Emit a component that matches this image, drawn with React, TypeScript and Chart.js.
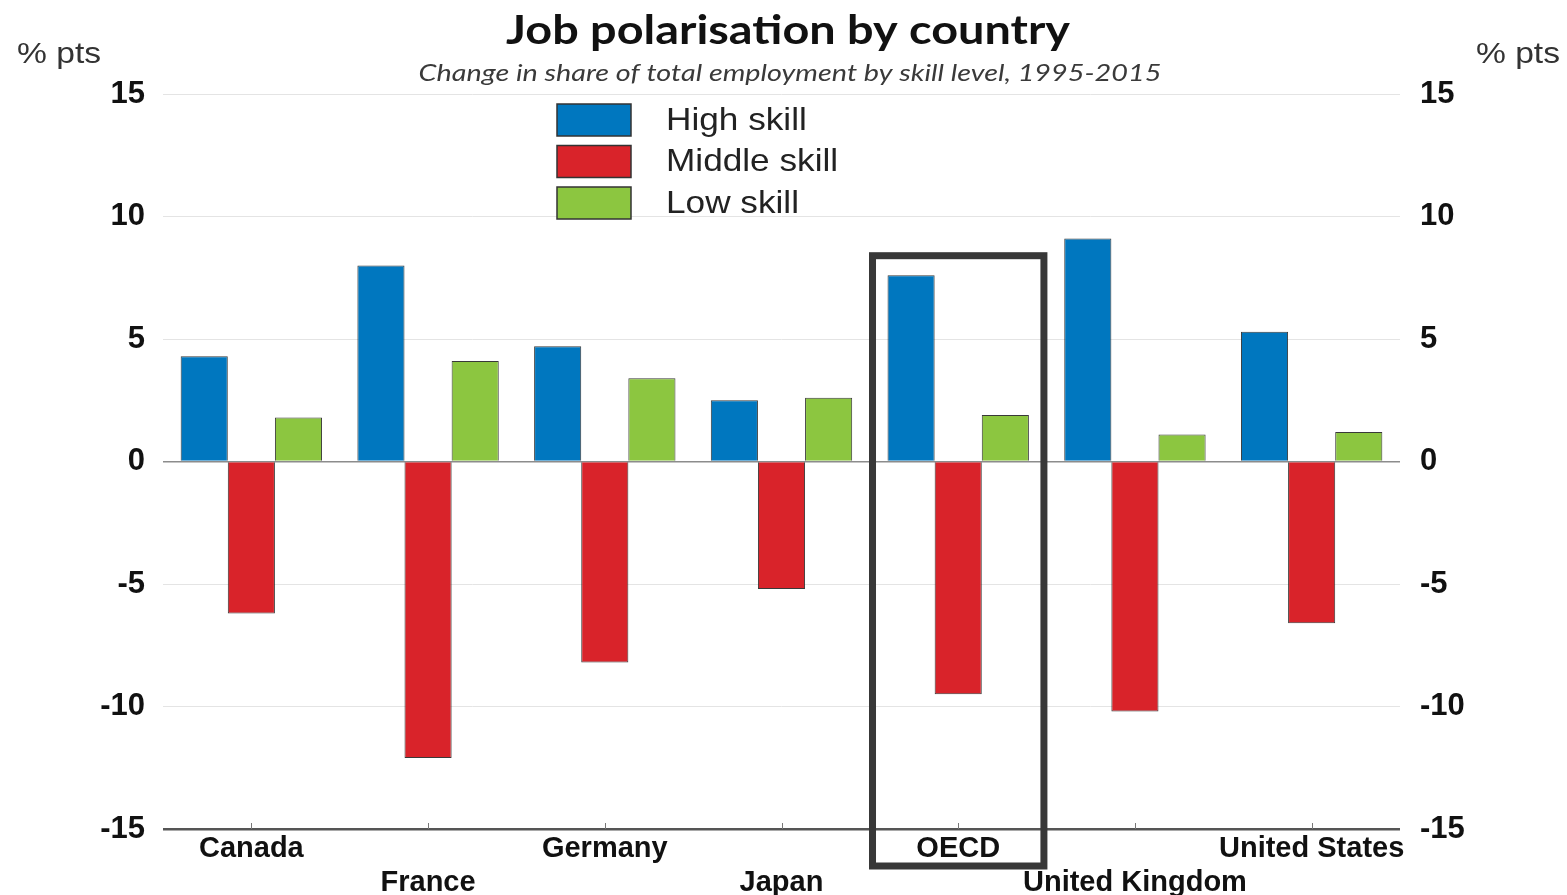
import React, { useEffect, useRef } from "react";
import { Chart, registerables } from "chart.js";

Chart.register(...registerables);

const countries = ["Canada", "France", "Germany", "Japan", "OECD", "United Kingdom", "United States"];
const highSkill = [4.3, 8.0, 4.7, 2.5, 7.6, 9.1, 5.3];
const middleSkill = [-6.2, -12.1, -8.2, -5.2, -9.5, -10.2, -6.6];
const lowSkill = [1.8, 4.1, 3.4, 2.6, 1.9, 1.1, 1.2];
const seriesNames = ["High skill", "Middle skill", "Low skill"];
const seriesColors = ["#0077bf", "#d9232a", "#8cc640"];
const yTicks = [15, 10, 5, 0, -5, -10, -15];
const titleText = "Job polarisation by country";
const subtitleText = "Change in share of total employment by skill level, 1995-2015";
const unitText = "% pts";
const highlighted = "OECD";
const highlightTop = 8.4;

const AXIS_FONT = "'Liberation Sans', Arial, sans-serif";

// draw text with horizontal stretch; align: 'left' | 'center' | 'right'
function stretchText(ctx: CanvasRenderingContext2D, text: string, x: number, y: number, sx: number, align: string) {
  ctx.save();
  ctx.textAlign = "left";
  const w = ctx.measureText(text).width * sx;
  let left = x;
  if (align === "center") left = x - w / 2;
  else if (align === "right") left = x - w;
  ctx.translate(left, y);
  ctx.scale(sx, 1);
  ctx.fillText(text, 0, 0);
  ctx.restore();
}

const decorPlugin = {
  id: "decor",
  beforeDraw(chart: any) {
    const ctx = chart.ctx;
    ctx.save();
    ctx.fillStyle = "#ffffff";
    ctx.fillRect(0, 0, chart.width, chart.height);
    ctx.restore();
  },
  afterDatasetsDraw(chart: any) {
    const ctx = chart.ctx;
    const xs = chart.scales.x;
    const ys = chart.scales.y;
    const area = chart.chartArea;
    ctx.save();
    ctx.strokeStyle = "#777";
    ctx.lineWidth = 1;
    countries.forEach((_, i) => {
      const px = Math.round(xs.getPixelForValue(i)) + 0.5;
      ctx.beginPath();
      ctx.moveTo(px, area.bottom);
      ctx.lineTo(px, area.bottom - 6);
      ctx.stroke();
    });
    const idx = countries.indexOf(highlighted);
    const catW = (area.right - area.left) / countries.length;
    const cx = xs.getPixelForValue(idx);
    const left = cx - catW * 0.485;
    const right = cx + catW * 0.485;
    const top = ys.getPixelForValue(highlightTop);
    const bottom = area.bottom + 37;
    ctx.strokeStyle = "#383838";
    ctx.lineWidth = 7;
    ctx.strokeRect(left, top, right - left, bottom - top);
    ctx.restore();
  },
  afterDraw(chart: any) {
    const ctx = chart.ctx;
    ctx.save();
    ctx.textBaseline = "middle";
    ctx.fillStyle = "#111";
    ctx.font = "bold 40px Lato, 'Open Sans', sans-serif";
    stretchText(ctx, titleText, 788, 31, 1.17, "center");
    ctx.fillStyle = "#3a3a3a";
    ctx.font = "italic 24px Lato, 'Open Sans', sans-serif";
    stretchText(ctx, subtitleText, 790, 73, 1.2, "center");
    ctx.fillStyle = "#333";
    ctx.font = `30px ${AXIS_FONT}`;
    stretchText(ctx, unitText, 17, 55, 1.12, "left");
    stretchText(ctx, unitText, 1560, 55, 1.12, "right");
    const boxX = 557, boxW = 74, boxH = 32, top0 = 104, step = 41.5;
    chart.data.datasets.forEach((ds: any, i: number) => {
      const y = top0 + i * step;
      ctx.fillStyle = ds.backgroundColor;
      ctx.fillRect(boxX, y, boxW, boxH);
      ctx.strokeStyle = "#333";
      ctx.lineWidth = 1.5;
      ctx.strokeRect(boxX, y, boxW, boxH);
      ctx.fillStyle = "#222";
      ctx.textBaseline = "middle";
      ctx.font = `32px ${AXIS_FONT}`;
      stretchText(ctx, ds.label, 666, y + boxH / 2 + 1, 1.1, "left");
    });
    ctx.restore();
  },
};

export default function App() {
  const ref = useRef<HTMLCanvasElement | null>(null);

  useEffect(() => {
    if (!ref.current) return;
    const labels = countries.map((c, i) => (i % 2 === 0 ? [c] : ["", c]));
    const values = [highSkill, middleSkill, lowSkill];
    const chart = new Chart(ref.current, {
      type: "bar",
      data: {
        labels,
        datasets: values.map((v, i) => ({
          label: seriesNames[i],
          data: v,
          backgroundColor: seriesColors[i],
          borderColor: "rgba(35,35,35,0.9)",
          borderWidth: 1,
          categoryPercentage: 0.8,
          barPercentage: 1.0,
          yAxisID: "y",
        })),
      },
      options: {
        responsive: false,
        animation: false,
        layout: { padding: { top: 94, left: 0, right: 0, bottom: 0 } },
        plugins: {
          legend: { display: false },
          title: { display: false },
          tooltip: { enabled: false },
        },
        scales: {
          x: {
            grid: { display: false, drawTicks: false },
            border: { display: false },
            ticks: {
              autoSkip: false,
              maxRotation: 0,
              minRotation: 0,
              padding: 3,
              color: "#111",
              font: { family: AXIS_FONT, weight: "bold", size: 29, lineHeight: "34px" },
            },
            afterFit: (s: any) => {
              s.height = 66;
            },
          },
          y: {
            position: "left",
            min: -15,
            max: 15,
            afterBuildTicks: (s: any) => {
              s.ticks = yTicks.map((v) => ({ value: v }));
            },
            grid: {
              drawTicks: false,
              color: (c: any) =>
                c.tick && c.tick.value === 0 ? "#8c8c8c" : c.tick && c.tick.value === -15 ? "#555" : "#e4e4e4",
              lineWidth: (c: any) => (c.tick && c.tick.value === -15 ? 2.5 : c.tick && c.tick.value === 0 ? 1.5 : 1),
            },
            border: { display: false },
            ticks: {
              padding: 18,
              color: "#111",
              font: { family: AXIS_FONT, weight: "bold", size: 31 },
            },
            afterFit: (s: any) => {
              s.width = 163;
            },
          },
          y2: {
            position: "right",
            min: -15,
            max: 15,
            afterBuildTicks: (s: any) => {
              s.ticks = yTicks.map((v) => ({ value: v }));
            },
            grid: { display: false, drawTicks: false },
            border: { display: false },
            ticks: {
              padding: 20,
              color: "#111",
              font: { family: AXIS_FONT, weight: "bold", size: 31 },
            },
            afterFit: (s: any) => {
              s.width = 167;
            },
          },
        },
      },
      plugins: [decorPlugin],
    });
    return () => chart.destroy();
  }, []);

  return (
    <div style={{ position: "fixed", left: 0, top: 0, width: 1567, height: 895, background: "#fff" }}>
      <canvas ref={ref} width={1567} height={895} style={{ width: 1567, height: 895 }} />
    </div>
  );
}
